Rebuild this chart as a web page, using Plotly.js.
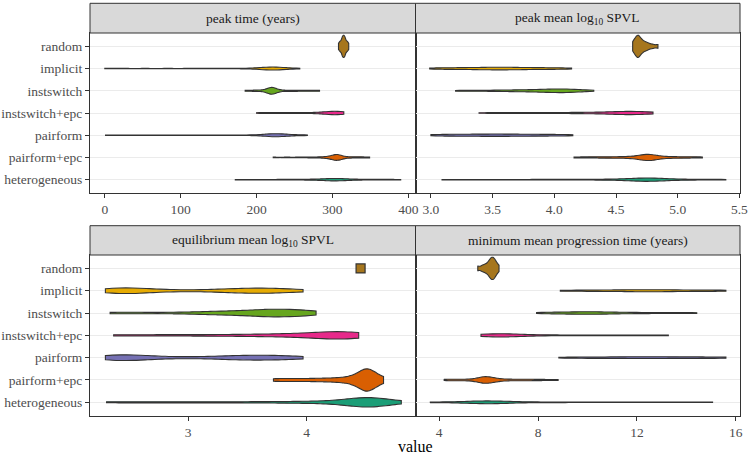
<!DOCTYPE html>
<html>
<head>
<meta charset="utf-8">
<script src="https://cdn.plot.ly/plotly-3.0.1.min.js"></script>
<style>html,body{margin:0;padding:0;background:#fff;}#chart{width:750px;height:454px;}</style>
</head>
<body>
<div id="chart"></div>
<script>
// ---------------- data ----------------
const categories = ['random','implicit','instswitch','instswitch+epc','pairform','pairform+epc','heterogeneous'];
const colors = ['#A6761D','#E6AB02','#66A61E','#E7298A','#7570B3','#D95F02','#1B9E77'];
const panelTitles = ['peak time (years)','peak mean log<sub>10</sub> SPVL','equilibrium mean log<sub>10</sub> SPVL','minimum mean progression time (years)'];

// peak time (years)
const peakTimeRandom = [308,309.5,310.5,311.5,312.5,313,313.5,314,314.5,315,315.5,316,316.5,317,318,319,320,321.5];
const peakTimeImplicit = [0,25,55,85,115,140,160,178,192,203,209,213,216,218,219,220,221,222,223,224,226,228,232,238,248,257];
const peakTimeInstswitch = [185,195,201,208,212,215,217,218,219,220,220,221,222,223,225,228,232,240,248,255,265,274,283];
const peakTimeInstswitchEpc = [200,212,220,226,235,248,262,275,284,290,294,297,300,302,304,306,307,308,310,312,315];
const peakTimePairform = [1,30,60,90,120,145,168,186,200,210,215,218,221,223,224,225,226,227,228,229,231,234,239,250,258,267];
const peakTimePairformEpc = [222,240,255,268,278,286,292,296,299,301,303,304,305,306,307,308,309,311,314,319,326,333,340,349];
const peakTimeHeterogeneous = [172,190,210,228,243,256,266,275,283,288,293,297,300,302,304,306,308,311,315,320,327,336,347,360,375,390];

// peak mean log10 SPVL
const peakSpvlRandom = [4.635,4.645,4.655,4.665,4.67,4.675,4.68,4.685,4.69,4.70,4.71,4.72,4.735,4.75,4.77,4.80,4.84];
const peakSpvlImplicit = [2.99,3.08,3.15,3.22,3.30,3.36,3.42,3.47,3.52,3.56,3.60,3.65,3.70,3.76,3.83,3.90,3.97,4.04,4.14];
const peakSpvlInstswitch = [3.20,3.35,3.48,3.58,3.66,3.73,3.79,3.85,3.90,3.94,3.98,4.01,4.04,4.07,4.10,4.13,4.17,4.22,4.32];
const peakSpvlInstswitchEpc = [3.39,3.55,3.70,3.84,3.97,4.10,4.20,4.30,4.38,4.45,4.50,4.54,4.58,4.61,4.63,4.65,4.67,4.70,4.73,4.80];
const peakSpvlPairform = [3.00,3.07,3.14,3.20,3.27,3.33,3.39,3.45,3.50,3.55,3.60,3.66,3.72,3.78,3.85,3.92,4.00,4.07,4.15];
const peakSpvlPairformEpc = [4.16,4.26,4.35,4.43,4.50,4.57,4.63,4.67,4.70,4.72,4.74,4.75,4.76,4.77,4.78,4.80,4.82,4.85,4.90,4.96,5.03,5.11,5.20];
const peakSpvlHeterogeneous = [3.09,3.30,3.50,3.70,3.88,4.05,4.20,4.33,4.43,4.51,4.58,4.64,4.68,4.71,4.73,4.74,4.75,4.76,4.77,4.79,4.81,4.84,4.88,4.95,5.03,5.12,5.25,5.39];

// equilibrium mean log10 SPVL
const eqSpvlRandom = [4.456];
const eqSpvlImplicit = [2.30,2.36,2.40,2.43,2.46,2.49,2.53,2.58,2.66,2.80,2.98,3.20,3.30,3.38,3.45,3.51,3.57,3.62,3.67,3.72,3.78,3.85,3.97];
const eqSpvlInstswitch = [2.34,2.60,2.90,3.10,3.22,3.32,3.41,3.49,3.56,3.62,3.67,3.71,3.75,3.80,3.85,3.90,3.96,4.02,4.08];
const eqSpvlInstswitchEpc = [2.37,2.65,2.92,3.18,3.40,3.58,3.72,3.84,3.94,4.03,4.10,4.16,4.21,4.25,4.29,4.32,4.35,4.38,4.41,4.44];
const eqSpvlPairform = [2.30,2.35,2.39,2.42,2.45,2.48,2.52,2.57,2.65,2.78,2.96,3.18,3.28,3.36,3.44,3.50,3.56,3.62,3.67,3.73,3.80,3.88,3.97];
const eqSpvlPairformEpc = [3.72,3.82,3.92,4.02,4.11,4.19,4.26,4.32,4.37,4.40,4.43,4.46,4.48,4.49,4.50,4.505,4.51,4.515,4.52,4.53,4.54,4.56,4.59,4.62,4.65];
const eqSpvlHeterogeneous = [2.31,2.55,2.80,3.05,3.30,3.52,3.72,3.88,4.02,4.14,4.23,4.31,4.37,4.42,4.46,4.48,4.49,4.50,4.505,4.51,4.52,4.53,4.55,4.58,4.62,4.68,4.74,4.80];

// minimum mean progression time (years)
const progRandom = [5.56,5.72,5.82,5.9,5.97,6.02,6.06,6.09,6.12,6.15,6.18,6.21,6.24,6.28,6.33,6.42];
const progImplicit = [8.9,9.5,10.0,10.5,11.0,11.4,11.8,12.1,12.4,12.7,13.0,13.3,13.7,14.2,14.8,15.2,15.6];
const progInstswitch = [7.94,8.4,8.8,9.2,9.5,9.8,10.0,10.2,10.5,10.8,11.2,11.7,12.3,13.0,13.7,14.42];
const progInstswitchEpc = [5.69,5.9,6.1,6.25,6.35,6.42,6.48,6.55,6.65,6.8,7.0,7.4,7.9,8.5,9.2,10.0,10.8,11.7,12.5,13.27];
const progPairform = [8.84,9.5,10.1,10.6,11.1,11.6,12.0,12.4,12.8,13.2,13.7,14.2,14.7,15.2,15.6];
const progPairformEpc = [4.2,4.5,4.8,5.1,5.45,5.6,5.7,5.77,5.82,5.86,5.9,5.94,6.0,6.07,6.15,6.27,6.45,6.7,7.0,7.3,7.6,7.95,8.35,8.81];
const progHeterogeneous = [3.64,4.1,4.6,5.1,5.45,5.62,5.74,5.82,5.88,5.92,5.96,6.01,6.07,6.14,6.24,6.38,6.6,6.95,7.4,7.9,8.5,9.2,10.0,10.8,11.7,12.6,13.4,14.2,15.06];

const peakTimeTicks = [0,100,200,300,400];
const peakSpvlTicks = [3.0,3.5,4.0,4.5,5.0,5.5];
const eqSpvlTicks = [3,4];
const progTicks = [4,8,12,16];

// ---------------- helpers ----------------
// the estimated samples are far fewer than the originals, so the R nrd0 bandwidth is narrowed
const bandwidthFactor = 0.65;
const maxViolinWidth = 1.0;
function quantile(sorted, p){ const h=(sorted.length-1)*p, lo=Math.floor(h), hi=Math.ceil(h); return sorted[lo]+(sorted[hi]-sorted[lo])*(h-lo); }
function nrd0(v){
  const n=v.length, m=v.reduce((a,b)=>a+b,0)/n;
  const sd=Math.sqrt(v.reduce((a,b)=>a+(b-m)*(b-m),0)/(n-1));
  const s=v.slice().sort((a,b)=>a-b);
  const iqr=quantile(s,0.75)-quantile(s,0.25);
  let lo=Math.min(sd, iqr/1.34); if(!(lo>0)) lo=sd||1;
  return 0.9*lo*Math.pow(n,-0.2);
}
function maxDensity(v,bw){
  const mn=Math.min(...v), mx=Math.max(...v); let best=0;
  for(let i=0;i<=400;i++){
    const x=mn+(mx-mn)*i/400; let d=0;
    for(const xi of v){ const z=(x-xi)/bw; d+=Math.exp(-0.5*z*z); }
    d/=(v.length*bw*Math.sqrt(2*Math.PI)); if(d>best) best=d;
  }
  return best;
}

const panels = [
  {series:[peakTimeRandom,peakTimeImplicit,peakTimeInstswitch,peakTimeInstswitchEpc,peakTimePairform,peakTimePairformEpc,peakTimeHeterogeneous], ticks:peakTimeTicks, fmt:'', range:[-19.5,409.5]},
  {series:[peakSpvlRandom,peakSpvlImplicit,peakSpvlInstswitch,peakSpvlInstswitchEpc,peakSpvlPairform,peakSpvlPairformEpc,peakSpvlHeterogeneous], ticks:peakSpvlTicks, fmt:'.1f', range:[2.875,5.505]},
  {series:[eqSpvlRandom,eqSpvlImplicit,eqSpvlInstswitch,eqSpvlInstswitchEpc,eqSpvlPairform,eqSpvlPairformEpc,eqSpvlHeterogeneous], ticks:eqSpvlTicks, fmt:'', range:[2.17,4.92]},
  {series:[progRandom,progImplicit,progInstswitch,progInstswitchEpc,progPairform,progPairformEpc,progHeterogeneous], ticks:progTicks, fmt:'', range:[3.04,16.17]}
];

// ---------------- geometry ----------------
const W=750,H=454;
const colsPx=[[90,415.5],[415.5,740]];
const rowsPx=[[33,193],[255,415.7]];
const stripPx=[[3.3,33],[225.7,255]];
const px2x=p=>p/W, py2y=p=>1-p/H;
const FONT='Liberation Serif, Times New Roman, serif';
const TICKCOL='#4D4D4D';

const traces=[]; const layout={
  width:W,height:H,margin:{l:0,r:0,t:0,b:0},paper_bgcolor:'#fff',plot_bgcolor:'#fff',
  showlegend:false,violinmode:'overlay',violingap:0,violingroupgap:0,
  font:{family:FONT,size:13,color:TICKCOL},
  shapes:[],annotations:[]
};

panels.forEach((p,pi)=>{
  const r=Math.floor(pi/2), c=pi%2, k=pi+1;
  const xa='x'+(k===1?'':k), ya='y'+(k===1?'':k);
  const xk='xaxis'+(k===1?'':k), yk='yaxis'+(k===1?'':k);
  // area-scaled widths like ggplot's geom_violin(scale='area')
  const info=p.series.map(v=>{ if(v.length<2) return null; const bw=nrd0(v)*bandwidthFactor; return {bw:bw,md:maxDensity(v,bw)}; });
  const gmax=Math.max(...info.filter(a=>a).map(a=>a.md));
  p.series.forEach((v,ci)=>{
    if(v.length<2){
      traces.push({type:'scatter',mode:'markers',x:v,y:v.map(()=>categories[ci]),xaxis:xa,yaxis:ya,
        marker:{symbol:'square',size:9,color:colors[ci],line:{color:'#333333',width:1.2}},hoverinfo:'skip'});
      return;
    }
    traces.push({type:'violin',orientation:'h',x:v,y:v.map(()=>categories[ci]),xaxis:xa,yaxis:ya,
      bandwidth:info[ci].bw,spanmode:'hard',width:maxViolinWidth*info[ci].md/gmax,scalemode:'width',
      points:false,box:{visible:false},meanline:{visible:false},
      fillcolor:colors[ci],line:{color:'#333333',width:1.1},opacity:1,hoverinfo:'skip',name:categories[ci]});
  });
  layout[xk]={domain:[px2x(colsPx[c][0]),px2x(colsPx[c][1])],anchor:ya,range:p.range,
    tickmode:'array',tickvals:p.ticks,ticktext:p.ticks.map(t=>p.fmt?t.toFixed(1):String(t)),
    ticks:'outside',ticklen:4,tickwidth:1,tickcolor:'#333333',
    showgrid:false,zeroline:false,showline:true,mirror:true,linecolor:'#333333',linewidth:1,
    tickfont:{family:FONT,size:13.5,color:TICKCOL}};
  layout[yk]={domain:[py2y(rowsPx[r][1]),py2y(rowsPx[r][0])],anchor:xa,type:'category',
    categoryorder:'array',categoryarray:categories,range:[6.6,-0.6],
    showgrid:true,gridcolor:'#EBEBEB',gridwidth:1,zeroline:false,showline:true,mirror:true,
    linecolor:'#333333',linewidth:1,
    ticks:c===0?'outside':'',ticklen:4,tickwidth:1,tickcolor:'#333333',showticklabels:c===0,
    tickfont:{family:FONT,size:13.5,color:TICKCOL}};
  // strip
  layout.shapes.push({type:'rect',xref:'paper',yref:'paper',x0:px2x(colsPx[c][0]),x1:px2x(colsPx[c][1]),
    y0:py2y(stripPx[r][1]),y1:py2y(stripPx[r][0]),fillcolor:'#D9D9D9',line:{color:'#333333',width:1},layer:'above'});
  layout.annotations.push({xref:'paper',yref:'paper',x:px2x((colsPx[c][0]+colsPx[c][1])/2),
    y:py2y((stripPx[r][0]+stripPx[r][1])/2),text:panelTitles[pi],showarrow:false,
    xanchor:'center',yanchor:'middle',font:{family:FONT,size:13.5,color:'#1A1A1A'}});
});
layout.annotations.push({xref:'paper',yref:'paper',x:px2x(415),y:py2y(446),text:'value',showarrow:false,
  xanchor:'center',yanchor:'middle',font:{family:FONT,size:16,color:'#000000'}});

Plotly.newPlot('chart',traces,layout,{staticPlot:true,displayModeBar:false});
</script>
</body>
</html>
